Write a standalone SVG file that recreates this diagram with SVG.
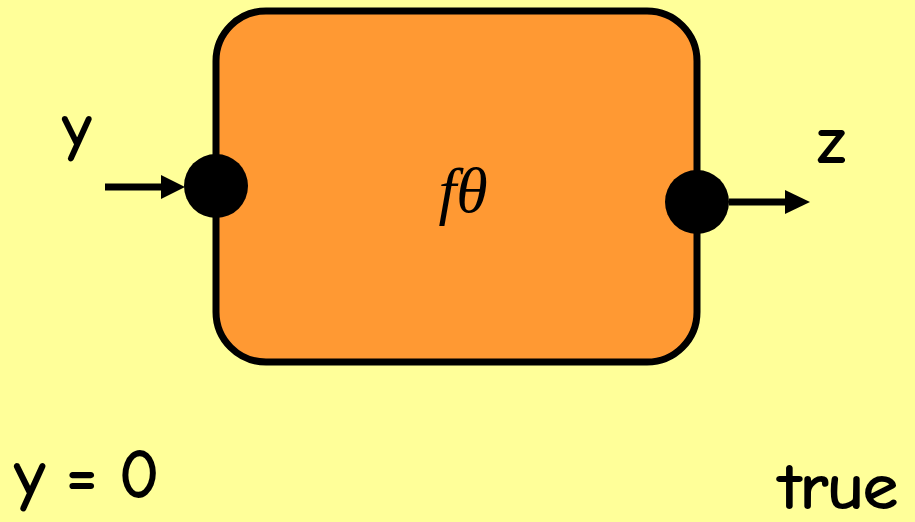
<svg xmlns="http://www.w3.org/2000/svg" width="915" height="522" viewBox="0 0 915 522">
<style>
.t{font-family:"Comic Sans MS","Comic Neue","Noto Sans","DejaVu Sans",sans-serif;fill:#000;stroke:#000;stroke-width:2;stroke-linejoin:round}
.c{stroke:#000;stroke-width:7;fill:none}
</style>
<rect width="915" height="522" fill="#FFFF99"/>
<g id="block">
<rect x="216" y="11" width="481" height="351" rx="50" fill="#FF9933" stroke="#000" stroke-width="7"/>
<text x="463" y="212" text-anchor="middle" font-family="Liberation Serif,serif" font-style="italic" font-size="64">fθ</text>
</g>
<g id="in-port"><circle cx="216" cy="186" r="32" fill="#000"/></g>
<g id="out-port"><circle cx="697" cy="202" r="32" fill="#000"/></g>
<g id="connectors">
<line class="c" x1="105" y1="187" x2="166" y2="187"/>
<polygon points="161,175 185,187 161,199" fill="#000"/>
<line class="c" x1="729" y1="202" x2="790" y2="202"/>
<polygon points="785,190 810,202 785,214" fill="#000"/>
</g>
<g id="labels">
<text class="t" x="63" y="148" font-size="62">y</text>
<text class="t" x="818" y="162" font-size="62">z</text>
<text class="t" x="15" y="497" font-size="66">y = 0</text>
<text class="t" x="780" y="508" font-size="62" textLength="118" lengthAdjust="spacingAndGlyphs">true</text>
</g>
</svg>
